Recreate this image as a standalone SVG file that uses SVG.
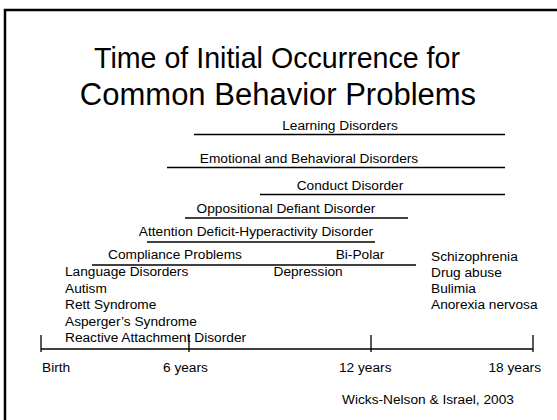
<svg xmlns="http://www.w3.org/2000/svg" width="557" height="420" viewBox="0 0 557 420">
<style>
text{font-family:"Liberation Sans",Arial,sans-serif;fill:#000}
.t{text-anchor:middle}
.l{font-size:13.7px}
.c{text-anchor:middle}
.e{text-anchor:end}
.bar{stroke:#000;stroke-width:1.3;fill:none}
</style>
<rect x="0" y="0" width="557" height="420" fill="#fff"/>
<rect x="5" y="10" width="600" height="500" fill="none" stroke="#000" stroke-width="2.5"/>
<g id="title">
<text class="t" x="277" y="68" font-size="28.6">Time of Initial Occurrence for</text>
<text class="t" x="278" y="105" font-size="31">Common Behavior Problems</text>
</g>
<g id="connectors">
<line class="bar" x1="194" y1="134.5" x2="505" y2="134.5"/>
<line class="bar" x1="167" y1="167.5" x2="505" y2="167.5"/>
<line class="bar" x1="260" y1="194.5" x2="505" y2="194.5"/>
<line class="bar" x1="185" y1="218" x2="408" y2="218"/>
<line class="bar" x1="147" y1="242" x2="375" y2="242"/>
<line class="bar" x1="92" y1="265" x2="416" y2="265"/>
<line class="bar" x1="41" y1="349" x2="533" y2="349"/>
<line class="bar" x1="41" y1="335" x2="41" y2="352"/>
<line class="bar" x1="189" y1="335" x2="189" y2="352"/>
<line class="bar" x1="371" y1="335" x2="371" y2="352"/>
<line class="bar" x1="533" y1="335" x2="533" y2="352"/>
</g>
<g id="learning"><text class="l c" x="340" y="130">Learning Disorders</text></g>
<g id="emotional"><text class="l c" x="309" y="163">Emotional and Behavioral Disorders</text></g>
<g id="conduct"><text class="l c" x="350" y="190">Conduct Disorder</text></g>
<g id="odd"><text class="l c" x="286" y="213">Oppositional Defiant Disorder</text></g>
<g id="adhd"><text class="l c" x="256" y="236">Attention Deficit-Hyperactivity Disorder</text></g>
<g id="compliance"><text class="l c" x="175" y="259">Compliance Problems</text></g>
<g id="bipolar"><text class="l c" x="360" y="259">Bi-Polar</text></g>
<g id="early">
<text class="l" x="65" y="276">Language Disorders</text>
<text class="l" x="65" y="292.5">Autism</text>
<text class="l" x="65" y="309">Rett Syndrome</text>
<text class="l" x="65" y="325.5">Asperger’s Syndrome</text>
<text class="l" x="65" y="342">Reactive Attachment Disorder</text>
</g>
<g id="depression"><text class="l" x="273.5" y="276">Depression</text></g>
<g id="adolescent">
<text class="l" x="431" y="261">Schizophrenia</text>
<text class="l" x="431" y="277">Drug abuse</text>
<text class="l" x="431" y="293">Bulimia</text>
<text class="l" x="431" y="309">Anorexia nervosa</text>
</g>
<g id="axis-labels">
<text class="l" x="42" y="372">Birth</text>
<text class="l" x="163" y="372">6 years</text>
<text class="l" x="339" y="372">12 years</text>
<text class="l e" x="541" y="372">18 years</text>
</g>
<g id="source"><text class="l" x="342" y="404">Wicks-Nelson &amp; Israel, 2003</text></g>
</svg>
